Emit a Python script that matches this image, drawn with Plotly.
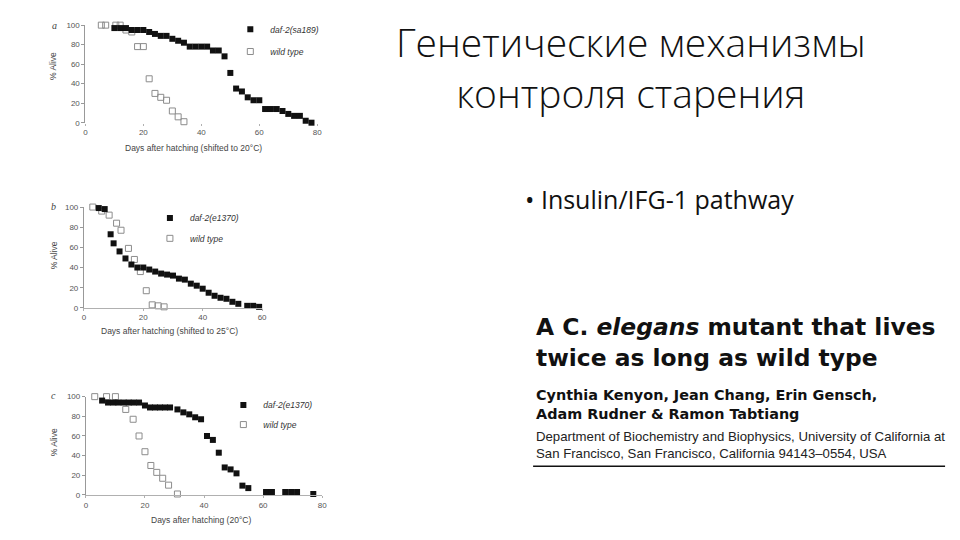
import plotly.graph_objects as go

W, H = 960, 540

# ---------------- data ----------------
# panel a: daf-2(sa189) vs wild type (shifted to 20°C)
a_mut_days = [10, 12, 14, 16, 18, 20, 22, 24, 26, 28, 30, 32, 34, 36, 38, 40, 42, 44,
              46, 48, 50, 52, 54, 56, 58, 60, 62, 64, 66, 68, 70, 72, 74, 76, 78]
a_mut_surv = [97, 97, 97, 95, 95, 95, 93, 91, 89, 89, 86, 84, 82, 78, 78, 78, 78, 74,
              74, 68, 51, 35, 32, 26, 23, 23, 14, 14, 14, 12, 9, 7, 7, 2, 0]
a_wt_days = [5.5, 7, 10.5, 12, 14, 16, 18, 20, 22, 24, 26, 28, 30, 32, 34]
a_wt_surv = [100, 100, 100, 100, 95, 93, 78, 78, 45, 30, 26, 23, 12, 6, 1]

# panel b: daf-2(e1370) vs wild type (shifted to 25°C)
b_mut_days = [5, 7, 9, 10, 12, 14, 16, 18, 20, 22, 24, 26, 28, 30, 32, 34, 36, 38,
              40, 42, 44, 46, 48, 50, 52, 55, 57, 59]
b_mut_surv = [99, 98, 73, 64, 56, 49, 43, 40, 40, 38, 36, 34, 33, 32, 29, 28, 24, 22,
              19, 15, 12, 10, 9, 6, 4, 2, 2, 1]
b_wt_days = [3, 6, 8.5, 11, 12.5, 15, 17, 19, 21, 23, 25, 27]
b_wt_surv = [100, 96, 92, 84, 77, 59, 48, 36, 17, 3, 2, 1]

# panel c: daf-2(e1370) vs wild type (20°C)
c_mut_days = [5.5, 7.5, 9.3, 11, 12.8, 14.5, 16.2, 18, 20, 21.7, 23.4, 25.1, 26.8, 28.5,
              31, 33, 35, 37, 39, 41, 43, 45, 47, 49, 51, 53, 55, 61, 63, 67.5, 69.5, 71.5, 77]
c_mut_surv = [96, 94, 94, 94, 94, 94, 94, 94, 91, 89, 89, 89, 89, 89,
              87, 84, 82, 79, 77, 60, 56, 43, 28, 26, 22, 9.5, 7, 3, 3, 3, 3, 3, 1]
c_wt_days = [3, 7, 10, 13.5, 16, 18, 20, 22, 24, 26, 28, 31]
c_wt_surv = [100, 100, 100, 87, 77, 60, 44, 30, 23, 17, 10, 1]

y_ticks = [0, 20, 40, 60, 80, 100]
x_ticks_80 = [0, 20, 40, 60, 80]
x_ticks_60 = [0, 20, 40, 60]

panel_letters = ["a", "b", "c"]
mut_names = ["daf-2(sa189)", "daf-2(e1370)", "daf-2(e1370)"]
wt_name = "wild type"
x_titles = ["Days after hatching (shifted to 20°C)",
            "Days after hatching (shifted to 25°C)",
            "Days after hatching (20°C)"]
y_title = "% Alive"

slide_title = ["Генетические механизмы", "контроля старения"]
bullet = "• Insulin/IFG-1 pathway"
paper_lines = ["A C. <i>elegans</i> mutant that lives",
               "twice as long as wild type"]
author_lines = ["Cynthia Kenyon, Jean Chang, Erin Gensch,",
                "Adam Rudner &amp; Ramon Tabtiang"]
affil_lines = ["Department of Biochemistry and Biophysics, University of California at",
               "San Francisco, San Francisco, California 94143–0554, USA"]


def px(x):
    return x / W


def py(y):
    return 1 - y / H


# pixel geometry of the three panels
geo = [
    dict(xl=84, xr=317.6, yb=120.7, yt=21.5, xmax=80, xt=x_ticks_80),
    dict(xl=82.5, xr=262, yb=309, yt=206.5, xmax=60, xt=x_ticks_60),
    dict(xl=84.5, xr=322.5, yb=499.3, yt=399.3, xmax=80, xt=x_ticks_80),
]
series = [
    (a_mut_days, a_mut_surv, a_wt_days, a_wt_surv),
    (b_mut_days, b_mut_surv, b_wt_days, b_wt_surv),
    (c_mut_days, c_mut_surv, c_wt_days, c_wt_surv),
]
legend_pos = [  # (symbol center x, y mutant, y wild)
    (250, 25.7, 48.3),
    (169, 217.7, 238.3),
    (243, 407.7, 427.7),
]
xtitle_pos = [(193, 146.5), (169, 333), (200, 525)]
ytitle_y = [63.5, 256, 446]
letter_pos = [(52.5, 22), (51.5, 206), (51.5, 398.5)]

fig = go.Figure()
tickfont = dict(family="Liberation Sans", size=8, color="#555")
layout = dict()
annotations = []

for i, g in enumerate(geo):
    sfx = "" if i == 0 else str(i + 1)
    xa, ya = "x" + sfx, "y" + sfx
    md, ms, wd, ws = series[i]
    leg_m = "legend" if i == 0 else "legend" + str(2 * i + 1)
    leg_w = "legend" + str(2 * i + 2)
    fig.add_trace(go.Scatter(
        x=wd, y=ws, mode="markers", name=wt_name, xaxis=xa, yaxis=ya,
        legend=leg_w, cliponaxis=False,
        marker=dict(symbol="square-open", size=6, color="#8c8c8c", line=dict(width=1))))
    fig.add_trace(go.Scatter(
        x=md, y=ms, mode="markers", name=mut_names[i], xaxis=xa, yaxis=ya,
        legend=leg_m, cliponaxis=False,
        marker=dict(symbol="square", size=6, color="#111", line=dict(width=0))))

    layout["xaxis" + sfx] = dict(
        domain=[px(g["xl"]), px(g["xr"])], range=[0, g["xmax"]], anchor=ya,
        showgrid=False, zeroline=False, showline=(i != 0), linecolor="#b0b0b0", linewidth=1,
        ticks="outside", ticklen=2, tickcolor="#b0b0b0", tickvals=g["xt"],
        tickfont=tickfont, fixedrange=True)
    layout["yaxis" + sfx] = dict(
        domain=[py(g["yb"]), py(g["yt"])], range=[0, 100], anchor=xa,
        showgrid=False, zeroline=False, showline=True, linecolor="#999", linewidth=1,
        ticks="outside", ticklen=3, tickcolor="#999", tickvals=y_ticks,
        tickfont=tickfont, fixedrange=True)

    sx, ym, yw = legend_pos[i]
    legfont = dict(family="Liberation Sans", size=8.5, color="#333", style="italic")
    layout[leg_m] = dict(x=px(sx - 20), y=py(ym), xanchor="left", yanchor="middle",
                         bgcolor="rgba(0,0,0,0)", font=legfont, borderwidth=0)
    layout[leg_w] = dict(x=px(sx - 20), y=py(yw), xanchor="left", yanchor="middle",
                         bgcolor="rgba(0,0,0,0)", font=legfont, borderwidth=0)

    tx, ty = xtitle_pos[i]
    annotations.append(dict(text=x_titles[i], x=px(tx), y=py(ty), xref="paper", yref="paper",
                            xanchor="center", yanchor="middle", showarrow=False,
                            font=dict(family="Liberation Sans", size=8.5, color="#444")))
    annotations.append(dict(text=y_title, x=px(52), y=py(ytitle_y[i]), xref="paper",
                            yref="paper", xanchor="center", yanchor="middle", textangle=-90,
                            showarrow=False,
                            font=dict(family="Liberation Sans", size=8.5, color="#444")))
    lx, ly = letter_pos[i]
    annotations.append(dict(text="<i>" + panel_letters[i] + "</i>", x=px(lx), y=py(ly),
                            xref="paper", yref="paper", xanchor="center", yanchor="middle",
                            showarrow=False,
                            font=dict(family="Liberation Serif", size=10, color="#444")))

# slide title (one text block, two lines)
title_font = dict(family="Open Sans", size=39, color="#111", weight=300)
annotations.append(dict(text="<br>".join(slide_title), x=px(634), y=py(64), xref="paper",
                        yref="paper", xanchor="center", yanchor="middle", showarrow=False,
                        font=title_font))
# bullet
annotations.append(dict(text=bullet, x=px(525), y=py(198), xref="paper", yref="paper",
                        xanchor="left", yanchor="middle", showarrow=False,
                        font=dict(family="Open Sans", size=25, color="#111")))
# paper header
heavy = dict(family="DejaVu Sans", size=23.4, color="#111", weight="bold")
for txt, yy in zip(paper_lines, [328, 360]):
    annotations.append(dict(text=txt, x=px(536), y=py(yy), xref="paper", yref="paper",
                            xanchor="left", yanchor="middle", showarrow=False, font=heavy))
auth = dict(family="DejaVu Sans", size=14.4, color="#111", weight="bold")
for txt, yy in zip(author_lines, [398, 417]):
    annotations.append(dict(text=txt, x=px(536), y=py(yy), xref="paper", yref="paper",
                            xanchor="left", yanchor="middle", showarrow=False, font=auth))
aff = dict(family="Liberation Sans", size=13.2, color="#222")
for txt, yy in zip(affil_lines, [440, 457]):
    annotations.append(dict(text=txt, x=px(536), y=py(yy), xref="paper", yref="paper",
                            xanchor="left", yanchor="middle", showarrow=False, font=aff))

fig.update_layout(
    width=W, height=H, margin=dict(l=0, r=0, t=0, b=0),
    paper_bgcolor="white", plot_bgcolor="white",
    showlegend=True, annotations=annotations,
    shapes=[dict(type="line", xref="paper", yref="paper", x0=px(535), x1=px(950),
                 y0=py(470), y1=py(470), line=dict(color="#111", width=1.5))],
    **layout)

fig.write_html("out.html", config=dict(displayModeBar=False),
               post_script="document.body.style.margin='0px';")
